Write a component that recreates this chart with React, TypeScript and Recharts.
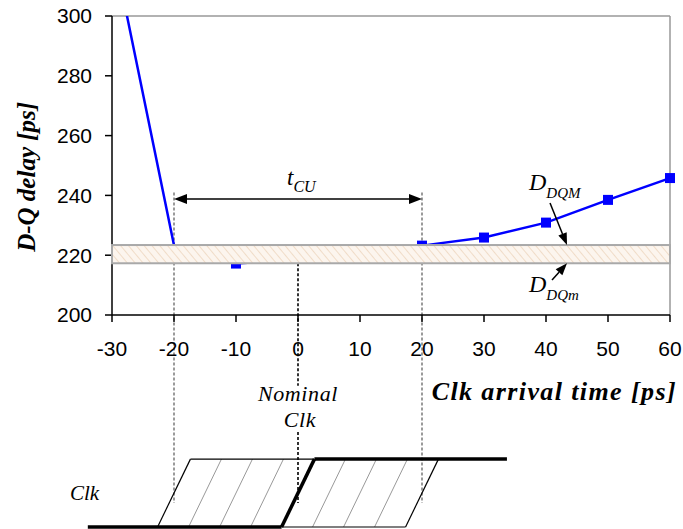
import React from 'react';
import {
  ComposedChart,
  Line,
  XAxis,
  YAxis,
  ReferenceArea,
  ReferenceLine,
  ReferenceDot,
} from 'recharts';

// ---- data ----
const clkTimes = [-30, -20, -10, 0, 10, 20, 30, 40, 50, 60];
const dqDelay = [324.5, 223.3, 217.2, 218.5, 220.5, 223.2, 225.9, 230.9, 238.5, 245.8];
const markerShown = [false, false, true, false, false, true, true, true, true, true];
const xTicks = [-30, -20, -10, 0, 10, 20, 30, 40, 50, 60];
const yTicks = [200, 220, 240, 260, 280, 300];

// D_DQm .. D_DQM band
const bandLow = 217.3;
const bandHigh = 223.4;

// t_CU window
const tcuStart = -20;
const tcuEnd = 20;
const tcuLevel = 238.8;
const nominalClk = 0;

// clock diagram (in data units)
const clkEdgeCenters = [-20, 0, 20];
const clkHatchCenters = [-15, -10, -5, 5, 10, 15];
const clkLow = 129.1;
const clkHigh = 151.8;
const clkEdgeHalf = 2.65;
const clkLeftEnd = -33.9;
const clkRightEnd = 33.7;
const guideBottom = 137.1;

const data = clkTimes.map((t, i) => ({ t, d: dqDelay[i], m: markerShown[i] }));

const SERIF = "'Liberation Serif', 'Times New Roman', serif";
const SANS = "'Liberation Sans', Arial, sans-serif";

function arrowShape(headStart: boolean, headEnd: boolean, len = 13, hw = 5) {
  return (p: any) => {
    const { x1, y1, x2, y2 } = p;
    const dx = x2 - x1;
    const dy = y2 - y1;
    const L = Math.sqrt(dx * dx + dy * dy) || 1;
    const ux = dx / L;
    const uy = dy / L;
    const nx = -uy;
    const ny = ux;
    const sx = headStart ? x1 + ux * len : x1;
    const sy = headStart ? y1 + uy * len : y1;
    const ex = headEnd ? x2 - ux * len : x2;
    const ey = headEnd ? y2 - uy * len : y2;
    const head = (tx: number, ty: number, bx: number, by: number) =>
      `${tx},${ty} ${bx + nx * hw},${by + ny * hw} ${bx - nx * hw},${by - ny * hw}`;
    return (
      <g>
        <line x1={sx} y1={sy} x2={ex} y2={ey} stroke="#000" strokeWidth={1.5} />
        {headStart && <polygon points={head(x1, y1, sx, sy)} fill="#000" />}
        {headEnd && <polygon points={head(x2, y2, ex, ey)} fill="#000" />}
      </g>
    );
  };
}

const bandShape = (p: any) => {
  const { x, y, width, height } = p;
  return (
    <g>
      <defs>
        <pattern id="bandHatch" patternUnits="userSpaceOnUse" width={6} height={6} patternTransform="rotate(-40)">
          <rect x={0} y={0} width={6} height={6} fill="#fcf5ee" />
          <line x1={0} y1={0} x2={0} y2={6} stroke="#f0dcc8" strokeWidth={2} />
        </pattern>
      </defs>
      <rect x={x} y={y} width={width} height={height} fill="url(#bandHatch)" stroke="#a9a9a9" strokeWidth={2} />
    </g>
  );
};

const MarkerDot = (props: any) => {
  const { cx, cy, index, payload } = props;
  if (!payload || !payload.m || cx == null || cy == null) return <g key={`d${index}`} />;
  const s = 10;
  return <rect key={`d${index}`} x={cx - s / 2} y={cy - s / 2} width={s} height={s} fill="#0000ff" />;
};

const subLabel = (main: string, sub: string, mainSize: number, subSize: number, subDy: number) => (p: any) => (
  <text x={p.cx} y={p.cy} fontFamily={SERIF} fontStyle="italic" fill="#000">
    <tspan fontSize={mainSize}>{main}</tspan>
    <tspan fontSize={subSize} dy={subDy}>{sub}</tspan>
  </text>
);

const yTitle = (p: any) => (
  <text
    x={p.cx}
    y={p.cy}
    transform={`rotate(-90 ${p.cx} ${p.cy})`}
    textAnchor="middle"
    dy="0.35em"
    fontFamily={SERIF}
    fontStyle="italic"
    fontWeight="bold"
    fontSize={25}
    fill="#000"
  >
    D-Q delay [ps]
  </text>
);

const xTitle = (p: any) => (
  <text
    x={p.cx}
    y={p.cy}
    textAnchor="end"
    fontFamily={SERIF}
    fontStyle="italic"
    fontWeight="bold"
    fontSize={26}
    letterSpacing={1.4}
    fill="#000"
  >
    Clk arrival time [ps]
  </text>
);

const nominalLabel = (p: any) => (
  <text x={p.cx} y={p.cy} textAnchor="middle" fontFamily={SERIF} fontStyle="italic" fontSize={22} letterSpacing={0.6} fill="#000">
    <tspan x={p.cx}>Nominal</tspan>
    <tspan x={p.cx + 2} dy={26}>Clk</tspan>
  </text>
);

const clkLabel = (p: any) => (
  <text x={p.cx} y={p.cy} fontFamily={SERIF} fontStyle="italic" fontSize={21} fill="#000">
    Clk
  </text>
);

export default function App() {
  const thin = { stroke: '#000', strokeWidth: 1.2 };
  const thick = { stroke: '#000', strokeWidth: 3.5 };
  return (
    <div style={{ position: 'absolute', left: 0, top: 0 }}>
      <ComposedChart
        width={683}
        height={529}
        data={data}
        margin={{ top: 16, right: 13, bottom: 184, left: 0 }}
      >
        <XAxis
          dataKey="t"
          type="number"
          domain={[-30, 60]}
          ticks={xTicks}
          interval={0}
          height={30}
          tickSize={7}
          tickMargin={19}
          axisLine={{ stroke: '#000', strokeWidth: 1.5 }}
          tickLine={{ stroke: '#000', strokeWidth: 1.5 }}
          tick={{ fontSize: 21, fill: '#000', fontFamily: SANS }}
        />
        <YAxis
          type="number"
          domain={[200, 300]}
          ticks={yTicks}
          interval={0}
          allowDataOverflow
          width={112}
          tickSize={7}
          tickMargin={13}
          axisLine={{ stroke: '#000', strokeWidth: 1.5 }}
          tickLine={{ stroke: '#000', strokeWidth: 1.5 }}
          tick={{ fontSize: 21, fill: '#000', fontFamily: SANS }}
        />
        <ReferenceLine y={300} stroke="#999" strokeWidth={1.5} ifOverflow="visible" />
        <ReferenceLine x={60} stroke="#999" strokeWidth={1.5} ifOverflow="visible" />

        {/* guide lines */}
        <ReferenceLine
          segment={[{ x: tcuStart, y: 241 }, { x: tcuStart, y: guideBottom }]}
          stroke="#9a9a9a"
          strokeWidth={2}
          strokeDasharray="3 2"
          ifOverflow="visible"
        />
        <ReferenceLine
          segment={[{ x: tcuEnd, y: 241 }, { x: tcuEnd, y: guideBottom }]}
          stroke="#9a9a9a"
          strokeWidth={2}
          strokeDasharray="3 2"
          ifOverflow="visible"
        />
        <ReferenceLine
          segment={[{ x: nominalClk, y: bandLow }, { x: nominalClk, y: 176.3 }]}
          stroke="#333"
          strokeWidth={2}
          strokeDasharray="3 2"
          ifOverflow="visible"
        />
        <ReferenceLine
          segment={[{ x: nominalClk, y: 160.9 }, { x: nominalClk, y: guideBottom }]}
          stroke="#333"
          strokeWidth={2}
          strokeDasharray="3 2"
          ifOverflow="visible"
        />

        <Line
          dataKey="d"
          type="linear"
          stroke="#0000ff"
          strokeWidth={2.5}
          dot={MarkerDot}
          activeDot={false}
          isAnimationActive={false}
        />

        <ReferenceArea
          y1={bandLow}
          y2={bandHigh}
          x1={-30}
          x2={60}
          shape={bandShape}
          ifOverflow="visible"
          zIndex={1050}
        />

        {/* t_CU arrow */}
        <ReferenceLine
          segment={[{ x: tcuStart, y: tcuLevel }, { x: tcuEnd, y: tcuLevel }]}
          shape={arrowShape(true, true)}
          ifOverflow="visible"
        />
        <ReferenceLine
          segment={[{ x: 40.65, y: 237.45 }, { x: 43.39, y: bandHigh }]}
          shape={arrowShape(false, true, 12, 4.5)}
          ifOverflow="visible"
          zIndex={1100}
        />
        <ReferenceLine
          segment={[{ x: 40.97, y: 211.7 }, { x: 43.39, y: bandLow }]}
          shape={arrowShape(false, true, 12, 4.5)}
          ifOverflow="visible"
          zIndex={1100}
        />

        {/* labels */}
        <ReferenceDot x={-1.77} y={243.5} shape={subLabel('t', 'CU', 23, 16, 7)} ifOverflow="visible" />
        <ReferenceDot x={37.26} y={241.8} shape={subLabel('D', 'DQM', 24, 15, 8)} ifOverflow="visible" />
        <ReferenceDot x={37.26} y={207.7} shape={subLabel('D', 'DQm', 24, 15, 8)} ifOverflow="visible" />
        <ReferenceDot x={-43.87} y={246.2} shape={yTitle} ifOverflow="visible" />
        <ReferenceDot x={61.13} y={171.6} shape={xTitle} ifOverflow="visible" />
        <ReferenceDot x={0} y={171.2} shape={nominalLabel} ifOverflow="visible" />
        <ReferenceDot x={-36.77} y={138.1} shape={clkLabel} ifOverflow="visible" />

        {/* clock diagram: hatch lines */}
        {clkHatchCenters.map((c) => (
          <ReferenceLine
            key={`h${c}`}
            segment={[{ x: c - clkEdgeHalf, y: clkLow }, { x: c + clkEdgeHalf, y: clkHigh }]}
            stroke="#999"
            strokeWidth={1}
            ifOverflow="visible"
          />
        ))}
        {/* window edges */}
        <ReferenceLine
          segment={[{ x: clkEdgeCenters[0] - clkEdgeHalf, y: clkLow }, { x: clkEdgeCenters[0] + clkEdgeHalf, y: clkHigh }]}
          {...thin}
          ifOverflow="visible"
        />
        <ReferenceLine
          segment={[{ x: clkEdgeCenters[2] - clkEdgeHalf, y: clkLow }, { x: clkEdgeCenters[2] + clkEdgeHalf, y: clkHigh }]}
          {...thin}
          ifOverflow="visible"
        />
        <ReferenceLine
          segment={[{ x: clkEdgeCenters[0] + clkEdgeHalf, y: clkHigh }, { x: clkEdgeCenters[1] + clkEdgeHalf, y: clkHigh }]}
          {...thin}
          ifOverflow="visible"
        />
        <ReferenceLine
          segment={[{ x: clkEdgeCenters[1] - clkEdgeHalf, y: clkLow }, { x: clkEdgeCenters[2] - clkEdgeHalf, y: clkLow }]}
          {...thin}
          ifOverflow="visible"
        />
        {/* nominal clock (thick) */}
        <ReferenceLine
          segment={[{ x: clkLeftEnd, y: clkLow }, { x: clkEdgeCenters[1] - clkEdgeHalf, y: clkLow }]}
          {...thick}
          ifOverflow="visible"
        />
        <ReferenceLine
          segment={[{ x: clkEdgeCenters[1] - clkEdgeHalf, y: clkLow }, { x: clkEdgeCenters[1] + clkEdgeHalf, y: clkHigh }]}
          {...thick}
          ifOverflow="visible"
        />
        <ReferenceLine
          segment={[{ x: clkEdgeCenters[1] + clkEdgeHalf, y: clkHigh }, { x: clkRightEnd, y: clkHigh }]}
          {...thick}
          ifOverflow="visible"
        />
      </ComposedChart>
    </div>
  );
}
